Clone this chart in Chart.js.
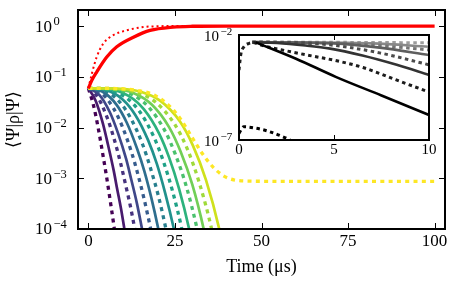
<!DOCTYPE html>
<html>
<head>
<meta charset="utf-8">
<script src="https://cdn.jsdelivr.net/npm/chart.js@4.4.0/dist/chart.umd.min.js"></script>
<style>
  html,body{margin:0;padding:0;background:#fff;}
  #wrap{position:relative;width:463px;height:281px;}
  #main{position:absolute;left:0;top:0;}
  #inset{position:absolute;left:195px;top:25px;}
</style>
</head>
<body>
<div id="wrap">
  <canvas id="main" width="463" height="281"></canvas>
  <canvas id="inset" width="245" height="135"></canvas>
</div>
<script>
// ---- main panel data (time in µs, <Ψ|ρ|Ψ>) ----
const xTicks = [0, 25, 50, 75, 100];
const yTicks = [1, 1e-1, 1e-2, 1e-3, 1e-4];

const redSolidT = [0, 1, 2.4, 5.3, 8.2, 13, 17.8, 24.5, 30, 40, 100];
const redSolidV = [0.0593, 0.085, 0.124, 0.245, 0.39, 0.60, 0.82, 0.955, 0.99, 1, 1];
const redDotT = [0, 1, 2.4, 4.3, 7.2, 11, 15.9, 20, 25, 100];
const redDotV = [0.0593, 0.115, 0.245, 0.45, 0.66, 0.82, 0.955, 0.99, 1, 1];

// decaying curves, even index dashed, odd index solid
const decayTimes = [
  [0, 1.5, 3, 4.1, 5.25, 6, 6.75, 7.5, 8.25],
  [0, 2.1, 4.2, 5.7, 7.3, 8.3, 9.4, 10.4, 11.4],
  [0, 2.7, 5.4, 7.4, 9.4, 10.7, 12.1, 13.4, 14.7],
  [0, 3.1, 6.2, 8.5, 10.9, 12.4, 14, 15.5, 17.1],
  [0, 3.6, 7.2, 9.9, 12.6, 14.4, 16.2, 18, 19.8],
  [0, 4, 8.1, 11.1, 14.1, 16.2, 18.2, 20.2, 22.2],
  [0, 4.5, 9, 12.3, 15.7, 17.9, 20.2, 22.4, 24.6],
  [0, 4.9, 9.9, 13.6, 17.3, 19.8, 22.2, 24.7, 27.2],
  [0, 5.4, 10.8, 14.9, 18.9, 21.6, 24.3, 27, 29.7],
  [0, 5.8, 11.6, 16, 20.4, 23.3, 26.2, 29.1, 32],
  [0, 6.3, 12.6, 17.3, 22, 25.1, 28.3, 31.4, 34.5],
  [0, 6.7, 13.3, 18.3, 23.3, 26.6, 30, 33.3, 36.6],
  [0, 7.1, 14.2, 19.6, 24.9, 28.5, 32, 35.6, 39.2],
  [0, 7.6, 15.1, 20.8, 26.5, 30.2, 34, 37.8, 41.6],
  [0, 8, 15, 19, 23, 26.5, 30, 33, 36, 39, 42, 46, 55, 100]
];
const decayValues = [
  [0.0593, 0.0270, 0.00851, 0.00315, 0.00107, 4.99e-4, 2.27e-4, 1e-4, 4.3e-5],
  [0.0593, 0.0338, 0.01194, 0.00446, 0.00143, 6.21e-4, 2.56e-4, 1e-4, 3.7e-5],
  [0.0593, 0.0397, 0.0158, 0.00605, 0.00187, 7.66e-4, 2.88e-4, 1e-4, 3.2e-5],
  [0.0593, 0.0446, 0.0200, 0.00793, 0.00240, 9.33e-4, 3.24e-4, 1e-4, 2.75e-5],
  [0.0593, 0.0483, 0.0242, 0.01005, 0.00303, 1.127e-3, 3.63e-4, 1e-4, 2.36e-5],
  [0.0593, 0.0513, 0.0283, 0.0124, 0.00376, 1.352e-3, 4.06e-4, 1e-4, 2.0e-5],
  [0.0593, 0.0535, 0.0321, 0.0149, 0.00458, 1.607e-3, 4.53e-4, 1e-4, 1.71e-5],
  [0.0593, 0.0551, 0.0358, 0.0175, 0.00552, 1.897e-3, 5.04e-4, 1e-4, 1.45e-5],
  [0.0593, 0.0562, 0.0391, 0.0202, 0.00655, 2.218e-3, 5.60e-4, 1e-4, 1.23e-5],
  [0.0593, 0.0571, 0.0421, 0.0230, 0.00767, 2.576e-3, 6.19e-4, 1e-4, 1.04e-5],
  [0.0593, 0.0577, 0.0447, 0.0257, 0.00889, 2.978e-3, 6.84e-4, 1e-4, 8.7e-6],
  [0.0593, 0.0582, 0.0469, 0.0284, 0.0102, 3.412e-3, 7.55e-4, 1e-4, 7.3e-6],
  [0.0593, 0.0585, 0.0489, 0.0309, 0.0116, 3.890e-3, 8.30e-4, 1e-4, 6.1e-6],
  [0.0593, 0.0587, 0.0506, 0.0334, 0.0130, 4.406e-3, 9.12e-4, 1e-4, 5.0e-6],
  [0.0593, 0.0586, 0.0525, 0.0437, 0.0282, 0.0151, 6.3e-3, 3.0e-3, 1.66e-3, 1.12e-3, 9.3e-4, 8.8e-4, 8.7e-4, 8.7e-4]
];
const viridis = ['#440154','#481b6d','#46327e','#3f4788','#365c8d','#2e6e8e','#277f8e','#21918c',
                 '#1fa187','#2db27d','#4ac16d','#71cf57','#9fda3a','#cfe11c','#fde725'];

// ---- inset data ----
const insetXTicks = [0, 5, 10];
const insetYTicks = [1e-2, 1e-7];
const insetTimes = [
  [0.88, 3, 5.09, 7.5, 10],
  [0, 0.09, 0.26, 0.53, 0.8, 1.05, 2.46, 3.86, 5, 6.53, 8.28, 10],
  [0.7, 2, 3.5, 4.8, 6.5, 8.3, 10],
  [0.7, 3, 4.8, 7.4, 10],
  [0.7, 5, 7.4, 10],
  [0.7, 6, 8, 10],
  [0.7, 7, 10],
  [0.7, 10],
  [0, 0.25, 0.9, 1.6, 2.5, 3.5]
];
const insetValues = [
  [4.47e-3, 7.41e-4, 1.02e-4, 1.32e-5, 1.55e-6],
  [2.14e-4, 1.12e-3, 2.75e-3, 3.98e-3, 4.27e-3, 3.55e-3, 1.78e-3, 1.0e-3, 6.31e-4, 2.82e-4, 7.24e-5, 1.91e-5],
  [4.47e-3, 4.17e-3, 3.16e-3, 2.24e-3, 1.05e-3, 3.8e-4, 1.26e-4],
  [4.57e-3, 4.27e-3, 3.39e-3, 1.41e-3, 3.8e-4],
  [4.57e-3, 3.98e-3, 2.51e-3, 1.12e-3],
  [4.57e-3, 3.80e-3, 2.82e-3, 1.95e-3],
  [4.57e-3, 3.98e-3, 2.75e-3],
  [4.68e-3, 4.27e-3],
  [2.09e-7, 4.27e-7, 3.63e-7, 2.51e-7, 1.2e-7, 3.98e-8]
];
const insetColors = ['#000000','#1c1c1c','#333333','#4a4a4a','#5e5e5e','#747474','#888888','#9c9c9c','#000000'];
const insetDashed = [false, true, false, true, false, true, false, true, true];

const serif = '"Liberation Serif", "DejaVu Serif", serif';
const pts = (ts, vs) => ts.map((t, i) => ({x: t, y: vs[i]}));
const expText = v => { const e = Math.round(Math.log10(v)); return e < 0 ? '\u2212' + (-e) : String(e); };

function powLabel(ctx, x, y, v, size, supSize, rise){
  ctx.textAlign = 'left'; ctx.textBaseline = 'middle';
  ctx.font = size + 'px ' + serif;
  ctx.fillText('10', x, y);
  const w = ctx.measureText('10').width;
  ctx.font = supSize + 'px ' + serif;
  ctx.fillText(expText(v), x + w + 1.5, y - rise);
}

// ---- main chart ----
const mainSets = [
  {data: pts(redSolidT, redSolidV), borderColor: '#ff0000', borderWidth: 3.3},
  {data: pts(redDotT, redDotV), borderColor: '#ff0000', borderWidth: 2, borderDash: [2, 3]}
];
for (let i = decayTimes.length - 1; i >= 0; i--) {
  const dashed = i % 2 === 0;
  mainSets.push({
    data: pts(decayTimes[i], decayValues[i]),
    borderColor: viridis[i],
    borderWidth: dashed ? 3.3 : 2.7,
    borderDash: dashed ? [4, 4.3] : []
  });
}

const mainFrame = {
  id: 'mainFrame',
  afterDatasetsDraw(chart){
    const {ctx, chartArea: a, scales: {x, y}} = chart;
    ctx.save();
    ctx.strokeStyle = '#000'; ctx.fillStyle = '#000'; ctx.lineWidth = 1;
    ctx.beginPath();
    xTicks.forEach(v => {
      const px = Math.round(x.getPixelForValue(v)) + 0.5;
      ctx.moveTo(px, a.bottom); ctx.lineTo(px, a.bottom - 6);
      ctx.moveTo(px, a.top); ctx.lineTo(px, a.top + 6);
    });
    yTicks.forEach(v => {
      const py = Math.round(y.getPixelForValue(v)) + 0.5;
      ctx.moveTo(a.left, py); ctx.lineTo(a.left + 6, py);
      ctx.moveTo(a.right, py); ctx.lineTo(a.right - 6, py);
    });
    ctx.stroke();
    ctx.lineWidth = 2;
    ctx.strokeRect(a.left, a.top, a.right - a.left, a.bottom - a.top);

    ctx.font = '17px ' + serif; ctx.textAlign = 'center'; ctx.textBaseline = 'middle';
    xTicks.forEach(v => ctx.fillText(String(v), x.getPixelForValue(v), 242));
    yTicks.forEach(v => powLabel(ctx, 35, y.getPixelForValue(v) + 1, v, 17, 12.5, 5));

    ctx.font = '18px ' + serif; ctx.textAlign = 'center';
    ctx.fillText('Time (\u03bcs)', (a.left + a.right) / 2, 267);
    ctx.translate(14, (a.top + a.bottom) / 2);
    ctx.rotate(-Math.PI / 2);
    ctx.fillText('\u27e8\u03a8|\u03c1|\u03a8\u27e9', 0, 0);
    ctx.restore();
  }
};

new Chart(document.getElementById('main'), {
  type: 'line',
  data: {datasets: mainSets},
  options: {
    responsive: false, animation: false, devicePixelRatio: 1,
    layout: {padding: {left: 78, right: 18, top: 10, bottom: 52}},
    plugins: {legend: {display: false}, tooltip: {enabled: false}},
    elements: {point: {radius: 0}, line: {cubicInterpolationMode: 'monotone', borderCapStyle: 'butt', fill: false}},
    scales: {
      x: {type: 'linear', min: -3, max: 103, display: false},
      y: {type: 'logarithmic', min: 1e-4, max: 2.07, display: false}
    }
  },
  plugins: [mainFrame]
});

// ---- inset chart ----
const insetSets = insetTimes.map((ts, i) => ({
  data: pts(ts, insetValues[i]),
  borderColor: insetColors[i],
  borderWidth: insetDashed[i] ? 3 : 2.6,
  borderDash: insetDashed[i] ? [3.5, 3.5] : []
}));

const insetFrame = {
  id: 'insetFrame',
  beforeDatasetsDraw(chart){
    const {ctx, chartArea: a} = chart;
    ctx.save(); ctx.fillStyle = '#fff';
    ctx.fillRect(a.left, a.top, a.right - a.left, a.bottom - a.top);
    ctx.restore();
  },
  afterDatasetsDraw(chart){
    const {ctx, chartArea: a, scales: {x, y}} = chart;
    ctx.save();
    ctx.strokeStyle = '#000'; ctx.fillStyle = '#000'; ctx.lineWidth = 1;
    ctx.beginPath();
    insetXTicks.forEach(v => {
      const px = Math.round(x.getPixelForValue(v)) + 0.5;
      ctx.moveTo(px, a.bottom); ctx.lineTo(px, a.bottom - 5);
      ctx.moveTo(px, a.top); ctx.lineTo(px, a.top + 5);
    });
    ctx.stroke();
    ctx.lineWidth = 2;
    ctx.strokeRect(a.left, a.top, a.right - a.left, a.bottom - a.top);
    ctx.font = '15px ' + serif; ctx.textAlign = 'center'; ctx.textBaseline = 'middle';
    insetXTicks.forEach(v => ctx.fillText(String(v), x.getPixelForValue(v), a.bottom + 10));
    insetYTicks.forEach(v => powLabel(ctx, 9, y.getPixelForValue(v) + 2, v, 15, 11, 4.5));
    ctx.restore();
  }
};

new Chart(document.getElementById('inset'), {
  type: 'line',
  data: {datasets: insetSets},
  options: {
    responsive: false, animation: false, devicePixelRatio: 1,
    layout: {padding: {left: 44, right: 11, top: 10, bottom: 20}},
    plugins: {legend: {display: false}, tooltip: {enabled: false}},
    elements: {point: {radius: 0}, line: {cubicInterpolationMode: 'monotone', borderCapStyle: 'butt', fill: false}},
    scales: {
      x: {type: 'linear', min: 0, max: 10, display: false},
      y: {type: 'logarithmic', min: 1e-7, max: 1e-2, display: false}
    }
  },
  plugins: [insetFrame]
});
</script>
</body>
</html>
